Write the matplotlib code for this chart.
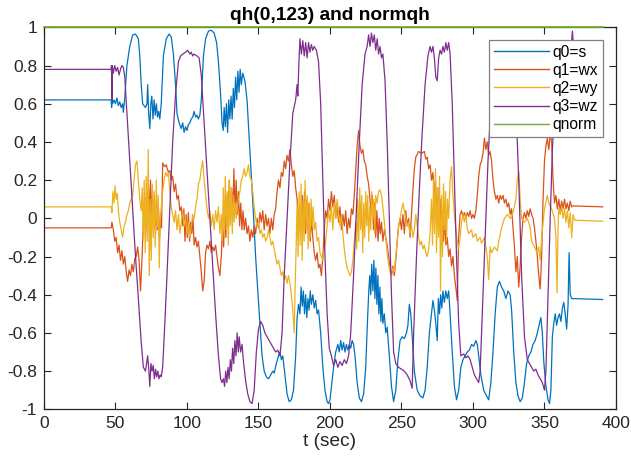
import numpy as np
import matplotlib
matplotlib.use('Agg')
import matplotlib.pyplot as plt

plt.rcParams['font.family'] = ['Liberation Sans', 'DejaVu Sans']
plt.rcParams['axes.unicode_minus'] = False

# q0 = s (blue)
t0 = [0, 47, 47.3, 47.6, 48, 49, 50, 51, 52, 53, 54, 55, 55.5, 56.5, 58, 60, 62, 64, 66, 67, 68, 69, 71, 72,
      72.5, 73.2, 74, 74.7, 75.4, 76.2, 77, 77.8, 78.6, 79.4, 80.2, 81, 82, 83.5, 85.5, 87.5, 89, 90.5, 92, 93,
      94.5, 96, 97, 98, 99, 100, 101, 102, 103, 104, 105, 106, 107, 108, 109, 110, 111.5, 113, 115, 117, 119,
      120.7, 122, 123.5, 124.5, 125.3, 126, 126.8, 127.6, 128.4, 129.2, 130, 130.8, 131.6, 132.4, 133.2, 134,
      134.8, 135.6, 136.4, 137.2, 138, 139, 140.5, 142, 143.5, 145, 146.5, 148, 149.5, 151, 152.5, 154, 155.5,
      157, 158.5, 160, 161, 162.5, 164, 165, 166, 167, 168.5, 170, 171.5, 173, 174.5, 176, 177, 178, 179, 179.8,
      180.6, 181.4, 182.2, 183, 183.8, 184.6, 185.4, 186.2, 187, 188, 189, 190, 191, 192, 193.5, 195, 196.5, 198,
      199, 200, 201, 202.5, 204, 205.5, 206.5, 207.5, 208.5, 209.5, 210.5, 211.5, 212.5, 213.5, 214.5, 215.5,
      216.5, 217.5, 219, 220.5, 222, 223.5, 225, 226, 227, 227.8, 228.5, 229.2, 230, 230.7, 231.4, 232.1, 232.8,
      233.5, 234.2, 234.9, 235.6, 236.3, 237, 238, 239, 240, 241.5, 243, 244.5, 246, 247.5, 249, 250.5, 252,
      253.5, 254.5, 255.5, 256.5, 257.5, 259, 261, 263, 265, 266.5, 268, 269.5, 271, 272, 273, 274, 275, 275.8,
      276.6, 277.4, 278.2, 279, 280, 281, 282, 283, 284, 285.5, 287, 288.5, 290, 291.5, 293, 294.5, 296, 297.5,
      299, 300.5, 302, 303, 304, 305.5, 307.5, 309.5, 311, 312.5, 314, 315.5, 317, 318.5, 320, 321.5, 323, 324.5,
      326, 327, 328.5, 330, 331.5, 333, 334.5, 336, 337.5, 339, 340.5, 342, 343.5, 345, 346.5, 347.5, 348.5,
      349.5, 351, 352.5, 353.5, 354.5, 355.5, 356.5, 357.5, 358.5, 359.5, 360.5, 361.5, 362.5, 363.5, 364.5,
      365.5, 366.5, 367.2, 368, 369, 390.7]
q0 = [0.62, 0.62, 0.58, 0.66, 0.6, 0.62, 0.6, 0.63, 0.59, 0.61, 0.58, 0.6, 0.555, 0.63, 0.8, 0.9, 0.96, 0.965,
      0.94, 0.85, 0.7, 0.6, 0.58, 0.6, 0.7, 0.55, 0.47, 0.6, 0.64, 0.52, 0.62, 0.54, 0.6, 0.53, 0.56, 0.52, 0.6,
      0.85, 0.94, 0.965, 0.95, 0.86, 0.7, 0.55, 0.5, 0.47, 0.5, 0.45, 0.48, 0.46, 0.49, 0.5, 0.52, 0.53, 0.56,
      0.53, 0.54, 0.52, 0.54, 0.62, 0.85, 0.94, 0.98, 0.985, 0.97, 0.92, 0.82, 0.65, 0.5, 0.46, 0.58, 0.48, 0.6,
      0.45, 0.62, 0.52, 0.64, 0.52, 0.68, 0.58, 0.74, 0.62, 0.77, 0.66, 0.78, 0.7, 0.76, 0.72, 0.62, 0.42, 0.22,
      0.02, -0.2, -0.38, -0.55, -0.72, -0.8, -0.83, -0.84, -0.82, -0.8, -0.81, -0.76, -0.72, -0.7, -0.74, -0.72,
      -0.82, -0.92, -0.96, -0.95, -0.9, -0.72, -0.52, -0.45, -0.5, -0.36, -0.46, -0.38, -0.5, -0.4, -0.52, -0.42,
      -0.48, -0.38, -0.45, -0.4, -0.47, -0.43, -0.5, -0.48, -0.6, -0.78, -0.9, -0.96, -0.97, -0.95, -0.88, -0.78,
      -0.7, -0.66, -0.7, -0.64, -0.69, -0.65, -0.7, -0.66, -0.69, -0.66, -0.68, -0.64, -0.66, -0.72, -0.86,
      -0.94, -0.96, -0.92, -0.78, -0.58, -0.4, -0.3, -0.4, -0.24, -0.38, -0.22, -0.42, -0.26, -0.45, -0.3, -0.5,
      -0.36, -0.54, -0.42, -0.55, -0.5, -0.6, -0.57, -0.72, -0.88, -0.96, -0.9, -0.74, -0.64, -0.62, -0.63, -0.6,
      -0.56, -0.45, -0.5, -0.62, -0.8, -0.9, -0.93, -0.94, -0.9, -0.78, -0.6, -0.5, -0.43, -0.48, -0.55, -0.64,
      -0.42, -0.5, -0.4, -0.47, -0.38, -0.44, -0.38, -0.42, -0.38, -0.5, -0.7, -0.88, -0.95, -0.9, -0.78, -0.74,
      -0.72, -0.7, -0.69, -0.66, -0.67, -0.64, -0.66, -0.72, -0.82, -0.9, -0.93, -0.95, -0.86, -0.7, -0.5, -0.36,
      -0.33, -0.36, -0.38, -0.42, -0.38, -0.4, -0.48, -0.7, -0.86, -0.93, -0.96, -0.94, -0.86, -0.76, -0.72,
      -0.7, -0.66, -0.64, -0.6, -0.55, -0.52, -0.6, -0.75, -0.88, -0.95, -0.97, -0.9, -0.62, -0.55, -0.5, -0.56,
      -0.52, -0.5, -0.54, -0.47, -0.44, -0.5, -0.58, -0.45, -0.18, -0.4, -0.42, -0.425]

# q1 = wx (orange)
t1 = [0, 47, 47.5, 48.5, 49.5, 50.5, 51.5, 52.5, 53.5, 54.5, 55.5, 56.5, 57.5, 58.5, 59.5, 60.5, 61.5, 62.5,
      63.5, 64.5, 65.5, 66.5, 67.5, 68.5, 69.5, 70.3, 71, 71.7, 72.4, 73.1, 73.8, 74.5, 75.2, 75.9, 76.6, 77.3,
      78, 78.7, 79.4, 80.1, 80.8, 81.5, 82.2, 83, 84.5, 85.5, 87, 88, 89, 90, 91, 92, 93, 94, 95, 96, 97, 97.8,
      98.6, 99.4, 100.2, 101, 101.8, 102.6, 103.4, 104.2, 105, 106, 107, 108, 109, 110, 111, 112, 113, 114, 115,
      116, 117, 118, 119, 120, 121, 122, 123, 124, 124.8, 125.6, 126.4, 127.2, 128, 128.8, 129.6, 130.4, 131.2,
      132, 132.8, 133.6, 134.4, 135.2, 136, 136.8, 137.6, 138.4, 139.2, 140, 141, 142, 143, 144, 145, 146, 147,
      148, 149, 150, 151, 152, 153, 154, 155, 156, 157, 158, 159, 160, 161, 162, 163, 164, 165, 166, 167, 168,
      169, 170, 171, 172, 173, 174, 175, 176, 177, 178, 179, 179.8, 180.6, 181.4, 182.2, 183, 183.8, 184.6,
      185.4, 186.2, 187, 188, 189, 190, 191, 192, 193, 194, 195, 196, 197, 198, 199, 200, 201, 202, 203, 204,
      205, 206, 207, 208, 209, 210, 211, 212, 213, 214, 215, 216, 217, 218, 219, 220, 221, 222, 223, 224, 225,
      226, 227, 228, 228.8, 229.6, 230.4, 231.2, 232, 232.8, 233.6, 234.4, 235.2, 236, 237, 238, 239, 240, 241,
      242, 243, 244, 245, 246, 247, 248, 249, 250, 251, 252, 253, 254, 255, 256, 257, 258, 259, 260, 262, 264,
      266, 267, 268, 269, 270, 271, 272, 273, 273.8, 274.6, 275.4, 276.2, 277, 277.8, 278.6, 279.4, 280.2, 281,
      282, 283, 284, 285, 286, 287, 288, 289, 290, 291, 292, 293, 294, 295, 296, 297, 298, 299, 300, 301, 302,
      303, 304, 305, 306, 307, 308, 309, 310, 311, 312, 313, 314, 315, 316, 317, 318, 319, 320, 321, 322, 323,
      324, 325, 326, 327, 328, 329, 330, 331, 332, 333, 334, 335, 336, 337, 338, 339, 340, 341, 342, 343, 344,
      345, 346, 347, 348, 349, 350, 351, 352, 353, 354, 355, 356, 357, 358, 359, 360, 361, 362, 363, 364, 365,
      366, 367, 368, 369, 370, 390.7]
q1 = [-0.05, -0.05, -0.02, -0.06, -0.12, -0.1, -0.18, -0.14, -0.22, -0.17, -0.24, -0.2, -0.28, -0.33, -0.27,
      -0.3, -0.24, -0.28, -0.21, -0.2, -0.15, -0.22, -0.38, -0.22, -0.02, 0.1, -0.1, 0.14, -0.06, 0.17, -0.02,
      0.2, 0.0, 0.15, -0.05, 0.1, -0.08, 0.06, -0.06, 0.05, -0.1, 0.0, -0.05, 0.29, 0.27, 0.28, 0.24, 0.25, 0.2,
      0.22, 0.14, 0.18, 0.1, 0.12, 0.04, 0.06, -0.04, 0.05, -0.12, 0.02, -0.1, 0.03, -0.12, -0.02, -0.08, 0.0,
      -0.14, -0.1, -0.15, -0.12, -0.2, -0.28, -0.38, -0.33, -0.18, -0.14, -0.16, -0.12, -0.18, -0.15, -0.17,
      -0.14, -0.2, -0.26, -0.3, -0.2, -0.05, -0.15, 0.05, -0.1, 0.12, -0.05, 0.2, -0.02, 0.16, 0.0, 0.26, 0.05,
      0.2, 0.02, 0.14, -0.04, 0.08, -0.06, 0.04, -0.06, 0.0, -0.08, -0.04, -0.12, -0.06, -0.1, -0.04, -0.08,
      0.0, -0.05, 0.03, -0.02, 0.04, -0.06, 0.02, -0.04, 0.0, -0.08, 0.0, -0.06, 0.02, 0.05, 0.14, 0.2, 0.16,
      0.24, 0.22, 0.3, 0.26, 0.33, 0.3, 0.36, 0.28, 0.22, 0.25, 0.16, 0.1, 0.0, 0.06, -0.06, 0.12, -0.04, 0.14,
      -0.08, 0.1, -0.06, 0.08, -0.12, 0.0, -0.1, -0.18, -0.22, -0.18, -0.26, -0.24, -0.3, -0.2, -0.06, 0.04,
      0.0, 0.1, 0.04, 0.14, 0.06, 0.12, 0.0, 0.08, -0.02, 0.06, -0.06, 0.02, -0.04, 0.04, -0.08, 0.0, -0.05,
      0.05, 0.02, 0.12, 0.25, 0.38, 0.46, 0.38, 0.34, 0.36, 0.3, 0.28, 0.22, 0.18, 0.1, 0.02, 0.12, -0.06, 0.08,
      -0.1, 0.04, -0.12, 0.0, -0.08, -0.02, -0.12, -0.06, -0.1, -0.14, -0.2, -0.26, -0.3, -0.25, -0.3, -0.22,
      -0.12, -0.04, 0.0, -0.06, 0.02, -0.08, 0.04, -0.04, 0.0, -0.1, 0.02, 0.15, 0.26, 0.32, 0.35, 0.34, 0.35,
      0.31, 0.32, 0.26, 0.28, 0.2, 0.24, 0.12, 0.2, 0.0, 0.16, -0.04, 0.1, -0.08, 0.04, -0.12, 0.0, -0.14, -0.1,
      -0.2, -0.16, -0.25, -0.2, -0.3, -0.36, -0.43, -0.1, 0.02, 0.04, 0.01, 0.03, 0.0, 0.03, 0.01, 0.04, 0.0,
      0.02, 0.0, 0.04, 0.12, 0.22, 0.28, 0.3, 0.34, 0.42, 0.36, 0.4, 0.33, 0.35, 0.3, 0.2, 0.14, 0.1, 0.12,
      0.08, 0.12, 0.1, 0.12, 0.08, 0.1, 0.06, 0.08, 0.02, 0.05, -0.05, -0.15, -0.28, -0.2, -0.36, -0.25, -0.1,
      0.0, 0.03, 0.0, 0.04, 0.01, 0.05, 0.02, 0.0, -0.05, -0.12, -0.2, -0.3, -0.37, -0.2, 0.1, 0.3, 0.38, 0.42,
      0.36, 0.44, 0.4, 0.2, 0.08, 0.12, 0.05, 0.1, 0.04, 0.09, 0.05, 0.1, 0.05, 0.08, 0.04, 0.09, 0.06, 0.065,
      0.06]

# q2 = wy (yellow)
t2 = [0, 47, 47.5, 48.2, 49, 49.7, 50.5, 51.3, 52, 53, 54, 55, 56, 57, 58, 59, 60, 61, 62, 63, 64, 65, 66, 67,
      68, 68.7, 69.4, 70.1, 70.8, 71.5, 72.2, 72.9, 73.6, 74.3, 75, 75.7, 76.4, 77.1, 77.8, 78.5, 79.2, 79.9,
      80.6, 81.3, 82, 83, 84, 85, 86, 87, 88, 89, 90, 91, 92, 93, 94, 95, 96, 97, 98, 99, 100, 101, 102, 103,
      104, 105, 106, 107, 108, 109, 110, 111, 112, 113, 114, 115, 116, 117, 118, 119, 120, 121, 122, 123, 124,
      124.7, 125.4, 126.1, 126.8, 127.5, 128.2, 128.9, 129.6, 130.3, 131, 131.7, 132.4, 133.1, 133.8, 134.5,
      135.2, 136, 137, 138, 139, 140, 141, 142, 143, 144, 145, 146, 147, 148, 149, 150, 151, 152, 153, 154, 155,
      156, 157, 158, 159, 160, 161, 162, 163, 164, 165, 166, 167, 168, 169, 170, 171, 172, 173, 174, 175, 175.5,
      176.3, 177, 177.7, 178.4, 179.1, 179.8, 180.5, 181.2, 181.9, 182.6, 183.3, 184, 184.7, 185.4, 186.1,
      186.8, 187.5, 188.2, 189, 190, 191, 192, 193, 194, 195, 196, 197, 198, 199, 200, 201, 202, 203, 204, 205,
      206, 207, 208, 209, 210, 211, 212, 213, 214, 215, 216, 217, 218, 218.7, 219.4, 220.1, 220.8, 221.5, 222.2,
      222.9, 223.6, 224.3, 225, 225.7, 226.4, 227.1, 227.8, 228.5, 229.2, 229.9, 230.6, 231.3, 232, 233, 234,
      235, 236, 237, 238, 239, 240, 241, 242, 243, 244, 245, 246, 247, 248, 249, 250, 251, 252, 253, 254, 255,
      256, 257, 258, 259, 260, 261, 262, 263, 264, 265, 266, 267, 268, 269, 270, 271, 271.7, 272.4, 273.1,
      273.8, 274.5, 275.2, 275.9, 276.6, 277.3, 278, 278.7, 279.4, 280.1, 280.8, 281.5, 282.2, 283, 284, 285,
      286, 287, 288, 289, 290, 291, 292, 293, 294, 295, 296, 297, 299, 300, 302, 303, 305, 306, 308, 309, 310,
      311, 312, 313, 315, 317, 318, 320, 322, 324, 326, 328, 330, 331, 332, 333, 334, 336, 338, 340, 341, 343,
      345, 346, 347, 348, 350, 352, 353, 355, 357, 358, 358.8, 359.5, 360, 361, 362, 363, 364, 365, 366, 367,
      368, 369, 370, 371, 390.7]
q2 = [0.06, 0.06, 0.03, 0.14, 0.08, 0.17, 0.1, 0.13, 0.04, -0.02, -0.06, -0.1, -0.04, -0.02, 0.02, 0.04, 0.08,
      0.1, 0.12, 0.2, 0.28, 0.3, 0.2, 0.1, 0.04, 0.16, -0.1, 0.2, -0.18, 0.22, -0.12, 0.36, -0.3, 0.1, -0.22,
      0.18, -0.1, 0.14, -0.15, 0.2, -0.05, 0.12, -0.26, 0.0, 0.06, 0.14, 0.2, 0.24, 0.22, 0.24, 0.14, 0.06,
      0.02, -0.02, 0.04, -0.06, 0.02, -0.08, -0.02, 0.04, -0.04, 0.0, -0.08, -0.02, -0.1, -0.04, 0.02, 0.0,
      0.06, 0.1, 0.18, 0.2, 0.26, 0.3, 0.2, 0.12, 0.05, 0.0, 0.04, -0.04, 0.02, -0.06, 0.04, -0.02, 0.06, -0.08,
      0.02, -0.12, 0.16, -0.1, 0.22, -0.06, 0.14, -0.14, 0.2, -0.04, 0.16, -0.08, 0.12, -0.02, 0.08, 0.0, 0.06,
      0.1, 0.14, 0.2, 0.22, 0.26, 0.22, 0.24, 0.28, 0.22, 0.2, 0.14, 0.06, 0.0, -0.04, -0.02, -0.08, -0.06,
      -0.1, -0.08, -0.12, -0.1, -0.06, -0.1, -0.14, -0.12, -0.16, -0.2, -0.24, -0.22, -0.26, -0.3, -0.28, -0.32,
      -0.3, -0.34, -0.3, -0.34, -0.4, -0.48, -0.6, -0.4, -0.16, 0.08, -0.2, 0.14, -0.14, 0.18, -0.22, 0.1,
      -0.12, 0.2, -0.06, 0.12, -0.16, 0.08, -0.1, 0.1, -0.04, 0.06, -0.06, -0.02, -0.12, -0.1, -0.18, -0.2,
      -0.22, -0.16, -0.12, -0.04, 0.04, -0.02, 0.06, -0.06, 0.08, 0.0, 0.1, 0.02, -0.04, 0.02, -0.08, -0.16,
      -0.22, -0.26, -0.28, -0.3, -0.28, -0.22, -0.12, -0.02, -0.16, 0.1, -0.12, 0.16, -0.06, 0.12, -0.18, 0.08,
      -0.1, 0.14, -0.04, 0.12, -0.12, 0.06, -0.06, 0.14, 0.0, 0.1, -0.08, 0.12, 0.08, 0.14, 0.15, 0.12, 0.06,
      -0.02, -0.1, -0.18, -0.24, -0.28, -0.3, -0.26, -0.28, -0.2, -0.12, -0.04, 0.0, 0.04, 0.08, 0.04, 0.0,
      -0.04, -0.02, -0.08, -0.04, -0.1, -0.06, 0.02, -0.04, -0.1, -0.14, -0.12, -0.16, -0.14, -0.18, -0.2,
      -0.16, -0.08, 0.1, -0.14, 0.2, -0.08, 0.26, -0.18, 0.16, -0.1, 0.22, -0.38, 0.12, -0.2, 0.18, -0.06, 0.14,
      -0.12, 0.1, 0.0, 0.2, 0.27, 0.12, 0.02, -0.06, -0.12, -0.16, -0.1, -0.02, 0.02, -0.02, 0.02, -0.05, -0.08,
      -0.06, -0.1, -0.08, -0.12, -0.1, -0.13, -0.1, -0.15, -0.2, -0.32, -0.15, -0.18, -0.15, -0.17, -0.12,
      -0.05, 0.0, 0.02, 0.0, 0.03, 0.1, 0.2, 0.25, 0.1, 0.0, -0.02, 0.0, -0.05, -0.12, -0.15, -0.18, -0.15,
      -0.22, -0.1, 0.05, 0.12, 0.08, 0.05, 0.0, -0.1, -0.39, -0.05, 0.05, 0.02, 0.06, 0.0, 0.05, -0.02, 0.04,
      -0.05, 0.03, -0.1, 0.02, -0.01, -0.015]

# q3 = wz (purple)
t3 = [0, 47, 47.2, 47.5, 47.8, 48.5, 49.5, 50.5, 51.5, 52.5, 53.5, 54.5, 55.5, 56.5, 58, 60, 62, 64, 66, 68,
      69.5, 71, 72.5, 73.3, 74, 74.8, 75.6, 76.4, 77.2, 78, 78.8, 79.6, 80.4, 81.2, 82, 83, 84.5, 86, 88, 90,
      92, 94, 95.5, 97, 99, 100.5, 102, 103, 104, 105, 107, 108.5, 110, 112, 114, 116, 118, 120, 122, 123.5,
      124.5, 125.5, 126.3, 127.1, 127.9, 128.7, 129.5, 130.3, 131.1, 131.9, 132.7, 133.5, 134.3, 135.1, 135.9,
      136.5, 137.5, 138.5, 139.5, 141, 142.5, 144, 145.5, 147, 148.5, 150, 151.5, 153, 154.5, 156, 157.5, 159,
      160.5, 162, 163.5, 165, 166.5, 168, 170, 172, 174, 176, 177, 177.5, 178.3, 179, 180, 181, 182, 183, 184,
      185, 186, 187, 188, 189, 190.5, 192, 193.5, 195, 196.5, 198, 199.5, 201, 202.5, 204, 205.5, 207, 208.5,
      210, 211.5, 213, 214.5, 216.5, 218.5, 220.5, 222.5, 224.5, 226, 227, 228, 229, 230, 231, 232, 233, 234,
      235, 236, 237, 238.5, 240, 241.5, 243, 244.5, 246, 248, 250, 252, 254, 256, 257.5, 258.5, 260.5, 262.5,
      264.5, 266.5, 268.5, 270, 271, 272, 273, 274, 275, 276, 277, 278, 279, 280, 281, 282, 283, 284, 285.5,
      287, 288.5, 290, 291.5, 293.5, 295, 296.5, 298, 299.5, 301, 302.5, 304, 305, 306.5, 308.5, 310.5, 312.5,
      314.5, 316, 318, 320, 322, 324, 326, 328, 330, 332, 334, 336, 338, 339.5, 341, 342.5, 344, 345.5, 347,
      348.5, 350, 351, 352.5, 354, 355.5, 357, 359, 361, 363, 365, 367, 368.5, 369.5, 370.3, 390.7]
q3 = [0.78, 0.78, 0.8, 0.62, 0.8, 0.76, 0.8, 0.77, 0.79, 0.75, 0.78, 0.8, 0.79, 0.74, 0.55, 0.3, 0.05, -0.2,
      -0.42, -0.65, -0.78, -0.8, -0.72, -0.79, -0.88, -0.76, -0.8, -0.77, -0.84, -0.79, -0.83, -0.8, -0.84,
      -0.82, -0.83, -0.78, -0.55, -0.3, 0.05, 0.4, 0.65, 0.82, 0.85, 0.86, 0.87, 0.88, 0.86, 0.87, 0.85, 0.86,
      0.85, 0.84, 0.75, 0.5, 0.25, 0.0, -0.25, -0.5, -0.72, -0.84, -0.86, -0.84, -0.88, -0.8, -0.86, -0.78,
      -0.84, -0.74, -0.8, -0.68, -0.76, -0.64, -0.72, -0.6, -0.7, -0.62, -0.7, -0.66, -0.75, -0.85, -0.92,
      -0.96, -0.97, -0.9, -0.7, -0.58, -0.54, -0.56, -0.6, -0.62, -0.64, -0.66, -0.68, -0.7, -0.69, -0.72,
      -0.6, -0.3, 0.0, 0.3, 0.55, 0.62, 0.7, 0.64, 0.82, 0.94, 0.86, 0.93, 0.85, 0.92, 0.84, 0.92, 0.87, 0.91,
      0.88, 0.9, 0.88, 0.82, 0.6, 0.2, -0.2, -0.5, -0.68, -0.72, -0.77, -0.74, -0.78, -0.75, -0.77, -0.74,
      -0.76, -0.72, -0.6, -0.3, 0.05, 0.4, 0.7, 0.86, 0.9, 0.96, 0.9, 0.97, 0.92, 0.96, 0.88, 0.94, 0.86, 0.9,
      0.84, 0.86, 0.72, 0.4, 0.0, -0.4, -0.7, -0.76, -0.78, -0.79, -0.8, -0.82, -0.85, -0.89, -0.6, -0.2, 0.15,
      0.45, 0.7, 0.85, 0.9, 0.87, 0.9, 0.84, 0.74, 0.72, 0.84, 0.88, 0.86, 0.9, 0.87, 0.92, 0.88, 0.92, 0.86,
      0.6, 0.2, -0.2, -0.55, -0.72, -0.71, -0.73, -0.72, -0.74, -0.78, -0.82, -0.84, -0.86, -0.8, -0.5, -0.1,
      0.3, 0.6, 0.85, 0.9, 0.88, 0.92, 0.9, 0.92, 0.9, 0.85, 0.6, 0.2, -0.3, -0.62, -0.74, -0.76, -0.78, -0.8,
      -0.79, -0.82, -0.84, -0.86, -0.9, -0.8, -0.4, 0.0, 0.35, 0.6, 0.8, 0.88, 0.9, 0.88, 0.9, 0.88, 0.98, 0.9,
      0.905]

# qnorm (green)
tn = [0, 390.7]
qn = [1.0, 1.0]

yticks = [1, 0.8, 0.6, 0.4, 0.2, 0, -0.2, -0.4, -0.6, -0.8, -1]
ytick_labels = ['1', '0.8', '0.6', '0.4', '0.2', '0', '-0.2', '-0.4', '-0.6', '-0.8', '-1']
xticks = [0, 50, 100, 150, 200, 250, 300, 350, 400]

fig = plt.figure(figsize=(6.31, 4.61), dpi=100)
ax = fig.add_axes([0.0697, 0.1121, 0.9065, 0.8286])

lw = 0.9
ax.plot(t0, q0, color='#0072BD', lw=lw, label='q0=s')
ax.plot(t1, q1, color='#D95319', lw=lw, label='q1=wx')
ax.plot(t2, q2, color='#EDB120', lw=lw, label='q2=wy')
ax.plot(t3, q3, color='#7E2F8E', lw=lw, label='q3=wz')
ax.plot(tn, qn, color='#77AC30', lw=1.3, label='qnorm', clip_on=False, zorder=5)

ax.set_xlim(0, 400)
ax.set_ylim(-1, 1)
ax.set_xticks(xticks)
ax.set_yticks(yticks)
ax.set_yticklabels(ytick_labels)
ax.tick_params(direction='in', length=5, width=0.8, top=True, right=True,
               labelsize=12.5, colors='#262626')
ax.tick_params(axis='y', pad=5)
ax.tick_params(axis='x', pad=5)
for s in ax.spines.values():
    s.set_color('#262626')
    s.set_linewidth(0.9)

ax.set_title('qh(0,123) and normqh', fontsize=13.75, fontweight='bold', color='black', pad=5)
ax.set_xlabel('t (sec)', fontsize=13.75, color='#262626', labelpad=1)

leg = ax.legend(loc='upper right', bbox_to_anchor=(0.977, 0.967), borderaxespad=0,
                fontsize=11.25, handlelength=3.5, handletextpad=0.25, labelspacing=0.2,
                borderpad=0.3, fancybox=False, framealpha=1)
leg.get_frame().set_edgecolor('#808080')
leg.get_frame().set_linewidth(0.9)
for h in leg.get_lines():
    h.set_linewidth(1.0)

fig.savefig('out.png', dpi=100)
